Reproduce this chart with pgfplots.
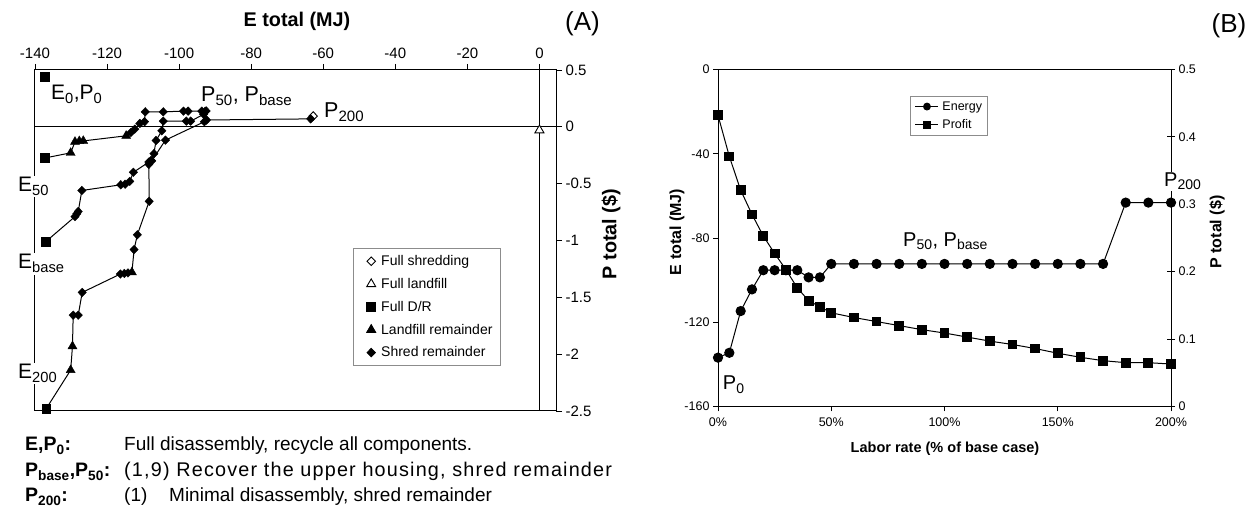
\documentclass[border=0pt]{standalone}
\usepackage{fontspec}
\setmainfont{Liberation Sans}
\usepackage{pgfplots}
\pgfplotsset{compat=1.18}
\newcommand{\fs}[1]{\fontsize{#1}{#1}\selectfont}
\pgfplotsset{lgA/.style={legend image code/.code={\path[draw=none,fill=none] (0pt,-3pt) rectangle (20pt,3pt); \draw[##1] plot coordinates {(12pt,0pt)};}}}
\begin{document}
\begin{tikzpicture}[x=1pt,y=1pt]
\useasboundingbox (0,0) rectangle (1246,510);

% ================= Panel A =================
\begin{axis}[
  at={(35pt,99pt)}, anchor=south west, scale only axis,
  width=521pt, height=341pt,
  xmin=-140, xmax=4.6, ymin=-2.5, ymax=0.5,
  clip=false,
  axis line style={line width=1pt},
  xtick={-140,-120,-100,-80,-60,-40,-20,0},
  xticklabels={-140,-120,-100,-80,-60,-40,-20,0},
  xtick pos=right, xticklabel pos=right,
  ytick={-2.5,-2,-1.5,-1,-0.5,0,0.5},
  yticklabels={-2.5,-2,-1.5,-1,-0.5,0,0.5},
  ytick pos=right, yticklabel pos=right,
  tick align=outside, major tick length=6pt,
  tick style={line width=0.8pt, black},
  xticklabel style={font=\fs{15}, yshift=2pt},
  yticklabel style={font=\fs{15}},
  legend cell align=left,
  legend style={at={(0.610,0.478)}, anchor=north west, draw=black!45, line width=0.8pt,
     font=\fs{14}, row sep=7.2pt, inner xsep=6pt, inner ysep=5pt},
]
\draw[line width=0.9pt] (axis cs:-140,0) -- (axis cs:4.6,0);
\draw[line width=0.9pt] (axis cs:0,-2.5) -- (axis cs:0,0.5);

% connecting lines of the three frontiers
\addplot[black, line width=1pt, forget plot] coordinates {
 (-137.2,-0.274) (-130.1,-0.229) (-128.9,-0.132) (-127.7,-0.126) (-126.6,-0.124)
 (-114.7,-0.079) (-113.4,-0.05) (-112.3,-0.02) (-110.9,0.03) (-109.6,0.045)
 (-109.4,0.132) (-104.4,0.132) (-98.8,0.138) (-97.5,0.138) (-93.7,0.138) (-92.5,0.14)};
\addplot[black, line width=1pt, forget plot] coordinates {
 (-137.0,-1.01) (-128.9,-0.79) (-128.4,-0.765) (-128.0,-0.745) (-127.0,-0.56)
 (-116.2,-0.51) (-115.0,-0.505) (-113.7,-0.48) (-112.7,-0.40) (-108.4,-0.31)
 (-107.8,-0.295) (-107.0,-0.236) (-106.4,-0.12) (-104.8,-0.035) (-104.4,0.05)
 (-98.0,0.05) (-96.8,0.05) (-93.2,0.11) (-92.8,0.135)};
\addplot[black, line width=1pt, forget plot] coordinates {
 (-136.9,-2.48) (-130.1,-2.14) (-129.6,-1.93) (-129.4,-1.657) (-128.0,-1.657)
 (-126.9,-1.457) (-116.3,-1.295) (-115.2,-1.29) (-114.2,-1.285) (-113.1,-1.28)
 (-112.5,-1.08) (-111.6,-0.95) (-108.3,-0.655) (-108.4,-0.33) (-107.6,-0.30)
 (-103.8,-0.117) (-93.0,0.045) (-92.4,0.06) (-63.5,0.07)};

\addplot[only marks, lgA, mark=diamond*, mark size=4.3pt, mark options={xscale=1.3, fill=white, draw=black, line width=0.9pt}]
 coordinates {(-62.8,0.095)};
\addlegendentry{Full shredding}
\addplot[only marks, lgA, mark=triangle*, mark size=5.2pt, mark options={fill=white, draw=black, line width=0.9pt}]
 coordinates {(0,-0.03)};
\addlegendentry{Full landfill}
\addplot[only marks, lgA, mark=square*, mark size=4.4pt, black]
 coordinates {(-137.2,0.44) (-137.2,-0.274) (-137.0,-1.01) (-136.9,-2.48)};
\addlegendentry{Full D/R}
\addplot[only marks, lgA, mark=triangle*, mark size=5.2pt, black]
 coordinates {(-130.1,-0.229) (-128.9,-0.132) (-127.7,-0.126) (-126.6,-0.124) (-114.7,-0.079)
 (-130.1,-2.14) (-129.6,-1.93) (-113.1,-1.28)};
\addlegendentry{Landfill remainder}
\addplot[only marks, lgA, mark=diamond*, mark size=4.3pt, mark options={xscale=1.3}, black]
 coordinates {
 (-113.4,-0.05) (-112.3,-0.02) (-110.9,0.03) (-109.6,0.045)
 (-109.4,0.132) (-104.4,0.132) (-98.8,0.138) (-97.5,0.138) (-93.7,0.138) (-92.5,0.14)
 (-128.9,-0.79) (-128.4,-0.765) (-128.0,-0.745) (-127.0,-0.56)
 (-116.2,-0.51) (-115.0,-0.505) (-113.7,-0.48) (-112.7,-0.40) (-108.4,-0.31)
 (-107.8,-0.295) (-107.0,-0.236) (-106.4,-0.12) (-104.8,-0.035) (-104.4,0.05)
 (-98.0,0.05) (-96.8,0.05) (-93.2,0.11) (-92.8,0.135)
 (-129.4,-1.657) (-128.0,-1.657) (-126.9,-1.457) (-116.3,-1.295) (-115.2,-1.29) (-114.2,-1.285)
 (-112.5,-1.08) (-111.6,-0.95) (-108.3,-0.655) (-108.4,-0.33) (-107.6,-0.30)
 (-103.8,-0.117) (-93.0,0.045) (-92.4,0.06) (-63.5,0.07)};
\addlegendentry{Shred remainder}
\end{axis}

% Panel A annotations
\node[anchor=base west, font=\fs{21}, inner sep=0pt] at (51,410) {E\textsubscript{0},P\textsubscript{0}};
\node[anchor=base west, font=\fs{21.5}, inner sep=0pt] at (201,408.3) {P\textsubscript{50}, P\textsubscript{base}};
\node[anchor=base west, font=\fs{21.5}, inner sep=0pt] at (324,392) {P\textsubscript{200}};
\node[anchor=base west, font=\fs{21}, fill=white, inner sep=2pt] at (16,318) {E\textsubscript{50}};
\node[anchor=base west, font=\fs{21}, fill=white, inner sep=2pt] at (16,241) {E\textsubscript{base}};
\node[anchor=base west, font=\fs{21}, fill=white, inner sep=2pt] at (16,131) {E\textsubscript{200}};

\node[font=\bfseries\fs{19.8}] at (297,489) {E total (MJ)};
\node[font=\fs{26}] at (582.5,486) {(A)};
\node[font=\bfseries\fs{19.8}, rotate=90] at (611,276) {P total (\$)};

% bottom text
\node[anchor=base west, font=\bfseries\fs{19.5}, inner sep=0pt] at (25,59) {E,P\textsubscript{0}:};
\node[anchor=base west, font=\fs{19}, inner sep=0pt] at (124,59) {Full disassembly, recycle all components.};
\node[anchor=base west, font=\bfseries\fs{19.5}, inner sep=0pt] at (25,33) {P\textsubscript{base},P\textsubscript{50}:};
\node[anchor=base west, font=\fs{19.8}\addfontfeature{LetterSpace=6}, inner sep=0pt] at (124,33) {(1,9) Recover the upper housing, shred remainder};
\node[anchor=base west, font=\bfseries\fs{19.5}, inner sep=0pt] at (25,8) {P\textsubscript{200}:};
\node[anchor=base west, font=\fs{19}, inner sep=0pt] at (124,8) {(1)};
\node[anchor=base west, font=\fs{19}, inner sep=0pt] at (169,8) {Minimal disassembly, shred remainder};

% ================= Panel B =================
\begin{axis}[
  at={(718pt,103.5pt)}, anchor=south west, scale only axis,
  width=453pt, height=337pt,
  xmin=0, xmax=200, ymin=-160, ymax=0,
  clip=false,
  axis line style={line width=1pt},
  xtick={0,50,100,150,200}, xticklabels={0\%,50\%,100\%,150\%,200\%},
  xtick pos=left, ytick pos=left,
  ytick={-160,-120,-80,-40,0}, yticklabels={-160,-120,-80,-40,0},
  tick align=outside, major tick length=5pt, tick style={line width=0.8pt,black},
  xticklabel style={font=\fs{12.5}, yshift=-3pt},
  yticklabel style={font=\fs{12.5}},
]
\addplot[black, line width=1pt, mark=*, mark size=4.6pt] coordinates {
 (0,-136.8) (5,-134.5) (10,-114.7) (15,-104.4) (20,-95.3) (25,-95.3) (30,-95.3) (35,-95.3)
 (40,-98.7) (45,-98.7) (50,-92.3) (60,-92.3) (70,-92.3) (80,-92.3) (90,-92.3) (100,-92.3)
 (110,-92.3) (120,-92.3) (130,-92.3) (140,-92.3) (150,-92.3) (160,-92.3) (170,-92.3)
 (180,-63.2) (190,-63.2) (200,-63.2)};
\end{axis}
\begin{axis}[
  at={(718pt,103.5pt)}, anchor=south west, scale only axis,
  width=453pt, height=337pt,
  xmin=0, xmax=200, ymin=0, ymax=0.5,
  clip=false,
  axis x line=none, axis y line*=right,
  axis line style={line width=1pt},
  ytick={0,0.1,0.2,0.3,0.4,0.5}, yticklabels={0,0.1,0.2,0.3,0.4,0.5},
  tick align=center, major tick length=8pt, tick style={line width=0.8pt,black},
  yticklabel style={font=\fs{12.5}},
  legend cell align=left,
  legend style={at={(0.424,0.921)}, anchor=north west, draw=black!45, line width=0.8pt,
     font=\fs{12.5}, inner xsep=3pt, inner ysep=3pt, row sep=4pt},
  legend image code/.code={\path[draw=none,fill=none] (0pt,0pt) -- (27pt,0pt); \draw[mark repeat=2,mark phase=2,#1] plot coordinates {(2pt,0pt) (13.5pt,0pt) (25pt,0pt)};},
  legend image post style={mark size=3.4pt},
]
\addlegendimage{black, line width=1pt, mark=*}
\addlegendentry{Energy}
\addplot[black, line width=1pt, mark=square*, mark size=4.4pt] coordinates {
 (0,0.432) (5,0.371) (10,0.321) (15,0.285) (20,0.253) (25,0.227) (30,0.203) (35,0.176)
 (40,0.157) (45,0.148) (50,0.139) (60,0.132) (70,0.126) (80,0.120) (90,0.114) (100,0.109)
 (110,0.103) (120,0.097) (130,0.092) (140,0.086) (150,0.079) (160,0.073) (170,0.068)
 (180,0.065) (190,0.065) (200,0.063)};
\addlegendentry{Profit}
\end{axis}

% Panel B annotations
\node[anchor=base west, font=\fs{20}, inner sep=0pt] at (903,263.3) {P\textsubscript{50}, P\textsubscript{base}};
\node[anchor=base west, font=\fs{20}, fill=white, inner sep=1pt] at (1163,323.3) {P\textsubscript{200}};
\node[anchor=base west, font=\fs{20}, inner sep=0pt] at (722.7,120) {P\textsubscript{0}};
\node[font=\bfseries\fs{16}, rotate=90] at (677,278) {E total (MJ)};
\node[font=\bfseries\fs{16}, rotate=90] at (1217,278) {P total (\$)};
\node[font=\bfseries\fs{14.5}] at (945,61) {Labor rate (\% of base case)};
\node[font=\fs{26}] at (1229,484) {(B)};
\end{tikzpicture}
\end{document}
